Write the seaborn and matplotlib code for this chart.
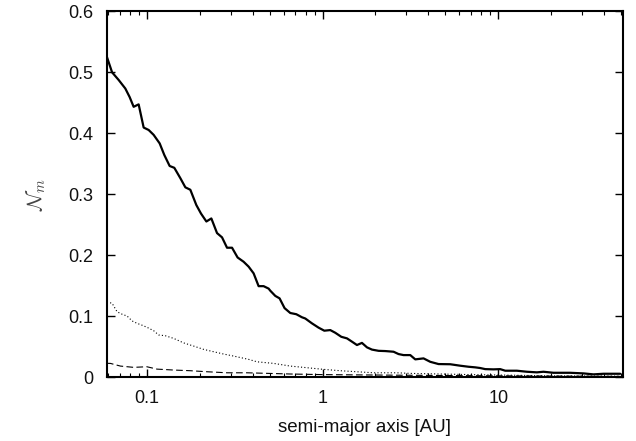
import matplotlib
matplotlib.use("Agg")
import matplotlib.pyplot as plt
import matplotlib.ticker as mticker
import seaborn as sns
import pandas as pd

# --- data ---
solid_a = [0.0592, 0.0634, 0.0691, 0.0754, 0.0798, 0.0841, 0.0898, 0.0959, 0.1024, 0.1093,
           0.1183, 0.1257, 0.1348, 0.1433, 0.1551, 0.1656, 0.1768, 0.1912, 0.2033, 0.2181,
           0.2328, 0.2508, 0.2678, 0.2859, 0.3053, 0.3284, 0.3553, 0.3794, 0.4051, 0.4325,
           0.4618, 0.4930, 0.5041, 0.5383, 0.5692, 0.6077, 0.6549, 0.7087, 0.7633, 0.7970,
           0.8703, 0.9488, 1.0226, 1.106, 1.181, 1.278, 1.377, 1.470, 1.569, 1.675,
           1.789, 1.910, 2.083, 2.274, 2.535, 2.706, 2.889, 3.155, 3.368, 3.754,
           4.099, 4.569, 5.326, 6.072, 6.769, 7.389, 7.889, 8.425, 9.391, 10.25,
           10.95, 12.76, 14.54, 16.58, 18.07, 20.61, 25.64, 30.52, 34.79, 39.67, 49.36]
solid_n = [0.525, 0.4995, 0.487, 0.473, 0.459, 0.443, 0.447, 0.409, 0.405, 0.397,
           0.383, 0.364, 0.346, 0.343, 0.326, 0.311, 0.307, 0.282, 0.268, 0.255,
           0.260, 0.236, 0.229, 0.212, 0.212, 0.196, 0.189, 0.181, 0.170, 0.149,
           0.149, 0.145, 0.1415, 0.133, 0.129, 0.113, 0.105, 0.103, 0.098, 0.096,
           0.088, 0.081, 0.076, 0.077, 0.0726, 0.066, 0.0634, 0.058, 0.0525, 0.056,
           0.0487, 0.045, 0.043, 0.0426, 0.0415, 0.0377, 0.036, 0.036, 0.029, 0.0306,
           0.025, 0.0213, 0.021, 0.0186, 0.0169, 0.0159, 0.0148, 0.013, 0.0126, 0.013,
           0.0104, 0.0104, 0.0087, 0.0077, 0.0087, 0.007, 0.007, 0.006, 0.0044, 0.0054, 0.0054]

dotted_a = [0.0592, 0.0634, 0.0677, 0.0723, 0.0772, 0.0824, 0.0880, 0.0939, 0.1003, 0.1093,
            0.1167, 0.1274, 0.1420, 0.1619, 0.1845, 0.2103, 0.2399, 0.2735, 0.3117, 0.3794,
            0.4234, 0.5263, 0.6549, 0.8151, 1.013, 1.261, 1.569, 1.951, 2.650, 3.155,
            4.673, 7.0, 12.0, 20.0, 49.36]
dotted_n = [0.123, 0.121, 0.107, 0.103, 0.100, 0.092, 0.088, 0.085, 0.0815, 0.076,
            0.069, 0.0677, 0.0634, 0.056, 0.0508, 0.0454, 0.0415, 0.0377, 0.0344, 0.0290,
            0.025, 0.0224, 0.018, 0.0153, 0.0126, 0.0104, 0.0087, 0.007, 0.007, 0.006,
            0.005, 0.004, 0.003, 0.002, 0.0015]

dashed_a = [0.0592, 0.0620, 0.0707, 0.0841, 0.1000, 0.1143, 0.1420, 0.1768, 0.2200, 0.2859,
            0.3715, 0.6549, 1.0, 2.77, 10.0, 49.36]
dashed_n = [0.0225, 0.0224, 0.018, 0.0159, 0.0169, 0.013, 0.0115, 0.0104, 0.0087, 0.007,
            0.007, 0.005, 0.004, 0.003, 0.002, 0.001]

x_ticks = [0.1, 1, 10]
x_tick_labels = ["0.1", "1", "10"]
y_ticks = [0, 0.1, 0.2, 0.3, 0.4, 0.5, 0.6]
y_tick_labels = ["0", "0.1", "0.2", "0.3", "0.4", "0.5", "0.6"]

sns.set_style("ticks")
plt.rcParams["font.family"] = ["Liberation Sans", "DejaVu Sans"]
plt.rcParams["mathtext.fontset"] = "cm"

fig = plt.figure(figsize=(6.36, 4.41), dpi=100)
ax = fig.add_axes([0.168, 0.145, 0.811, 0.830])

df_s = pd.DataFrame({"a": solid_a, "n": solid_n})
df_d = pd.DataFrame({"a": dotted_a, "n": dotted_n})
df_k = pd.DataFrame({"a": dashed_a, "n": dashed_n})

sns.lineplot(data=df_s, x="a", y="n", ax=ax, color="black", lw=1.6, estimator=None, sort=False)
sns.lineplot(data=df_d, x="a", y="n", ax=ax, color="black", lw=0.8, linestyle=(0, (1, 2)),
             estimator=None, sort=False)
sns.lineplot(data=df_k, x="a", y="n", ax=ax, color="black", lw=0.8, linestyle=(0, (6, 3)),
             estimator=None, sort=False)

ax.set_xscale("log")
ax.set_xlim(0.0592, 51.0)
ax.set_ylim(0, 0.6)
ax.set_xticks(x_ticks)
ax.set_xticklabels(x_tick_labels)
ax.xaxis.set_minor_locator(mticker.LogLocator(base=10, subs=range(2, 10), numticks=20))
ax.xaxis.set_minor_formatter(mticker.NullFormatter())
ax.set_yticks(y_ticks)
ax.set_yticklabels(y_tick_labels)

for s in ax.spines.values():
    s.set_visible(True)
    s.set_linewidth(1.5)
    s.set_color("black")

ax.tick_params(which="both", direction="in", top=True, right=True, colors="black",
               labelsize=13, labelcolor="#111111")
ax.tick_params(axis="y", which="major", length=6, width=1.0, pad=10)
ax.tick_params(axis="x", which="major", length=6, width=1.0, pad=9)
ax.tick_params(which="minor", length=3, width=0.8)

ax.set_xlabel("semi-major axis [AU]", fontsize=13.5, color="#111111", labelpad=9)
ax.set_ylabel(r"$\mathcal{N}_m$", fontsize=15, color="#444444", labelpad=14)

fig.savefig("out.png", dpi=100)
